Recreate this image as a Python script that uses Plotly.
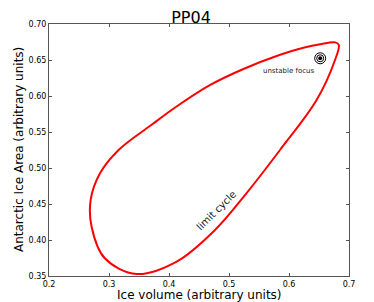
import plotly.graph_objects as go

# Limit cycle (ice volume, antarctic ice area)
cycle_x = [0.683, 0.677, 0.652, 0.624, 0.584, 0.524, 0.468, 0.412, 0.371, 0.316,
           0.285, 0.2695, 0.271, 0.293, 0.346, 0.4128, 0.4767, 0.529, 0.585, 0.646,
           0.6767, 0.683]
cycle_y = [0.671, 0.6745, 0.672, 0.667, 0.657, 0.6375, 0.615, 0.585, 0.560, 0.525,
           0.4926, 0.456, 0.4185, 0.3746, 0.3528, 0.370, 0.4139, 0.4648, 0.525, 0.5944,
           0.650, 0.671]

focus_x = [0.652]
focus_y = [0.6524]

x_ticks = [0.2, 0.3, 0.4, 0.5, 0.6, 0.7]
x_tick_labels = ["0.2", "0.3", "0.4", "0.5", "0.6", "0.7"]
y_ticks = [0.35, 0.40, 0.45, 0.50, 0.55, 0.60, 0.65, 0.70]
y_tick_labels = ["0.35", "0.40", "0.45", "0.50", "0.55", "0.60", "0.65", "0.70"]

FONT = "DejaVu Sans"
W, H = 366, 294  # page body margin of 8px offsets the figure

fig = go.Figure()
fig.add_trace(go.Scatter(x=cycle_x, y=cycle_y, mode="lines",
                         line=dict(color="#ff0000", width=2, shape="spline", smoothing=1),
                         hoverinfo="skip"))
# focus marker: spiral rings + filled dot
fig.add_trace(go.Scatter(x=focus_x, y=focus_y, mode="markers",
                         marker=dict(symbol="circle-open", size=11, color="black", line=dict(width=1)),
                         hoverinfo="skip"))
fig.add_trace(go.Scatter(x=focus_x, y=focus_y, mode="markers",
                         marker=dict(symbol="circle-open", size=7, color="black", line=dict(width=1)),
                         hoverinfo="skip"))
fig.add_trace(go.Scatter(x=focus_x, y=focus_y, mode="markers",
                         marker=dict(symbol="circle", size=4, color="black"),
                         hoverinfo="skip"))

fig.add_annotation(x=0.600, y=0.6345, text="unstable focus", showarrow=False,
                   font=dict(family=FONT, size=7, color="#222"))
fig.add_annotation(x=0.479, y=0.4405, text="limit cycle", showarrow=False, textangle=-45,
                   font=dict(family=FONT, size=10, color="#222"))

# axis titles
fig.add_annotation(xref="paper", yref="paper", x=0.5, y=0, yanchor="middle", yshift=-19,
                   text="Ice volume (arbitrary units)", showarrow=False,
                   font=dict(family=FONT, size=12, color="black"))
fig.add_annotation(xref="paper", yref="paper", x=0, y=0.5, xanchor="center", xshift=-30,
                   textangle=-90, text="Antarctic Ice Area (arbitrary units)", showarrow=False,
                   font=dict(family=FONT, size=12, color="black"))

fig.update_layout(
    width=W, height=H,
    margin=dict(l=41, r=25, t=16, b=26),
    paper_bgcolor="white", plot_bgcolor="white",
    showlegend=False,
    title=dict(text="PP04", x=0.5, xanchor="center", yref="container", y=1 - 9.5 / H,
               yanchor="middle", font=dict(family=FONT, size=16, color="black")),
    font=dict(family=FONT, color="black"),
)
fig.update_xaxes(range=[0.2, 0.7], tickvals=x_ticks, ticktext=x_tick_labels,
                 showgrid=False, zeroline=False, showline=True, linecolor="#555",
                 linewidth=1, mirror="ticks", ticks="inside", ticklen=3, tickcolor="#555",
                 tickfont=dict(size=8, family=FONT), automargin=False)
fig.update_yaxes(range=[0.35, 0.70], tickvals=y_ticks, ticktext=y_tick_labels,
                 showgrid=False, zeroline=False, showline=True, linecolor="#555",
                 linewidth=1, mirror="ticks", ticks="inside", ticklen=3, tickcolor="#555",
                 tickfont=dict(size=8, family=FONT), automargin=False)

fig.write_html("out.html")
